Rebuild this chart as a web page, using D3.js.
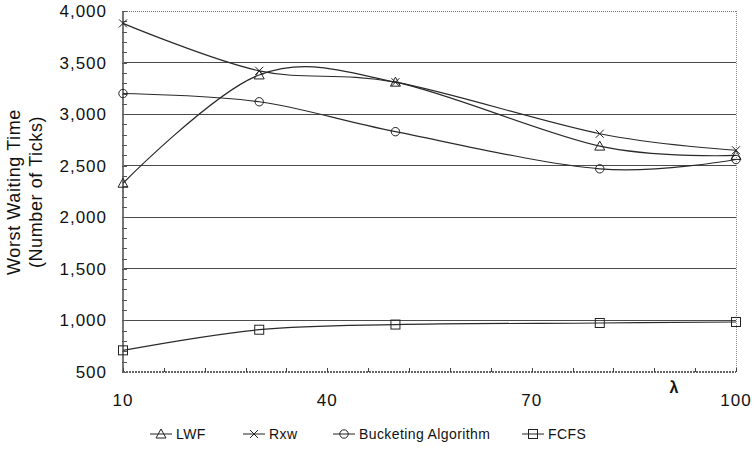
<!DOCTYPE html>
<html><head><meta charset="utf-8">
<script src="https://cdn.jsdelivr.net/npm/d3@7"></script>
<style>
body{margin:0;background:#fff;}
text{font-family:"Liberation Sans",Arial,sans-serif;fill:#111;}
</style></head>
<body><svg id="c" width="754" height="450"></svg>
<script>
const lambdas = [10, 30, 50, 80, 100];
const lwf = [2330, 3380, 3310, 2690, 2600];
const rxw = [3880, 3420, 3310, 2810, 2650];
const bucketing = [3200, 3120, 2830, 2470, 2560];
const fcfs = [710, 910, 960, 975, 985];
const seriesNames = ["LWF", "Rxw", "Bucketing Algorithm", "FCFS"];
const seriesMarkers = ["triangle", "x", "circle", "square"];
const yTicks = [500, 1000, 1500, 2000, 2500, 3000, 3500, 4000];
const xTicks = [10, 40, 70, 100];

const series = [lwf, rxw, bucketing, fcfs].map((vals, i) => ({
  name: seriesNames[i], marker: seriesMarkers[i],
  pts: vals.map((v, j) => ({x: lambdas[j], y: v}))
}));

const svg = d3.select("#c");
const x = d3.scaleLinear().domain([10, 100]).range([123, 736]);
const y = d3.scaleLinear().domain([500, 4000]).range([372, 11]);

// gridlines
svg.append("g").selectAll("line").data(yTicks.filter(d => d > 500 && d < 4000)).join("line")
  .attr("x1", x(10)).attr("x2", x(100)).attr("y1", d => y(d)).attr("y2", d => y(d))
  .attr("stroke", "#4a4a4a").attr("stroke-width", 1).attr("shape-rendering", "crispEdges");

// top & right borders (dotted)
svg.append("line").attr("x1", x(10)).attr("x2", x(100)).attr("y1", y(4000)).attr("y2", y(4000))
  .attr("stroke", "#777").attr("stroke-dasharray", "1,1").attr("shape-rendering", "crispEdges");
svg.append("line").attr("x1", x(100)).attr("x2", x(100)).attr("y1", y(4000)).attr("y2", y(500))
  .attr("stroke", "#888").attr("stroke-dasharray", "1,1").attr("shape-rendering", "crispEdges");

// left axis
const yMinor = d3.range(500, 4001, 100);
const gy = svg.append("g");
gy.append("line").attr("x1", x(10)).attr("x2", x(10)).attr("y1", y(4000)).attr("y2", y(500))
  .attr("stroke", "#777").attr("stroke-width", 2);
gy.selectAll("line.t").data(yMinor).join("line").attr("class", "t")
  .attr("x1", x(10) - 1).attr("x2", x(10) + 4).attr("y1", d => Math.round(y(d)) + 0.5).attr("y2", d => Math.round(y(d)) + 0.5)
  .attr("stroke", "#555");
gy.selectAll("text").data(yTicks).join("text")
  .attr("x", 107).attr("y", d => y(d) + 6).attr("text-anchor", "end")
  .style("font-size", "17px").style("letter-spacing", "1px")
  .text(d => d3.format(",")(d));

// bottom axis
const xMinor = d3.range(10, 100.1, 6);
const gx = svg.append("g");
gx.append("line").attr("x1", x(10)).attr("x2", x(100)).attr("y1", y(500)).attr("y2", y(500))
  .attr("stroke", "#666").attr("stroke-width", 2).attr("stroke-dasharray", "2,1");
gx.selectAll("line.t").data(xMinor).join("line").attr("class", "t")
  .attr("x1", d => Math.round(x(d)) + 0.5).attr("x2", d => Math.round(x(d)) + 0.5)
  .attr("y1", y(500) - 4).attr("y2", y(500))
  .attr("stroke", "#444");
gx.selectAll("text").data(xTicks).join("text")
  .attr("x", d => x(d)).attr("y", 406).attr("text-anchor", "middle")
  .style("font-size", "17px").style("letter-spacing", "1px")
  .text(d => d);
svg.append("text").attr("x", 674).attr("y", 393).attr("text-anchor", "middle")
  .style("font-size", "16px").style("font-weight", "bold").text("λ");

// y title
const yt = svg.append("text").attr("transform", "translate(20,192) rotate(-90)")
  .attr("text-anchor", "middle").style("font-size", "18px").style("letter-spacing", "0.6px");
yt.append("tspan").attr("x", 0).attr("dy", 0).text("Worst Waiting Time");
yt.append("tspan").attr("x", 0).attr("dy", 22).text("(Number of Ticks)");

// lines
const line = d3.line().x(d => x(d.x)).y(d => y(d.y)).curve(d3.curveCardinal.tension(0));
svg.append("g").selectAll("path").data(series).join("path")
  .attr("d", d => line(d.pts)).attr("fill", "none").attr("stroke", "#2a2a2a").attr("stroke-width", 1.2);

function drawMarker(g, type, cx, cy) {
  const s = "#222";
  if (type === "triangle") {
    g.append("path").attr("d", `M${cx},${cy - 5}L${cx + 5},${cy + 4}L${cx - 5},${cy + 4}Z`)
      .attr("fill", "none").attr("stroke", s);
  } else if (type === "x") {
    g.append("path").attr("d", `M${cx - 4},${cy - 4}L${cx + 4},${cy + 4}M${cx - 4},${cy + 4}L${cx + 4},${cy - 4}`)
      .attr("stroke", s);
  } else if (type === "circle") {
    g.append("circle").attr("cx", cx).attr("cy", cy).attr("r", 4.2).attr("fill", "none").attr("stroke", s);
  } else {
    g.append("rect").attr("x", cx - 4.5).attr("y", cy - 4.5).attr("width", 9).attr("height", 9)
      .attr("fill", "none").attr("stroke", s);
  }
}
const gm = svg.append("g");
series.forEach(s => s.pts.forEach(p => drawMarker(gm, s.marker, x(p.x), y(p.y))));

// legend
const legendX = [150, 243, 333, 522];
const lg = svg.append("g");
series.forEach((s, i) => {
  const lx = legendX[i], ly = 434;
  lg.append("line").attr("x1", lx).attr("x2", lx + 22).attr("y1", ly).attr("y2", ly).attr("stroke", "#222");
  drawMarker(lg, s.marker, lx + 11, ly);
  lg.append("text").attr("x", lx + 26).attr("y", ly + 5)
    .style("font-size", "14px").style("letter-spacing", "0.4px").text(s.name);
});
</script></body></html>
